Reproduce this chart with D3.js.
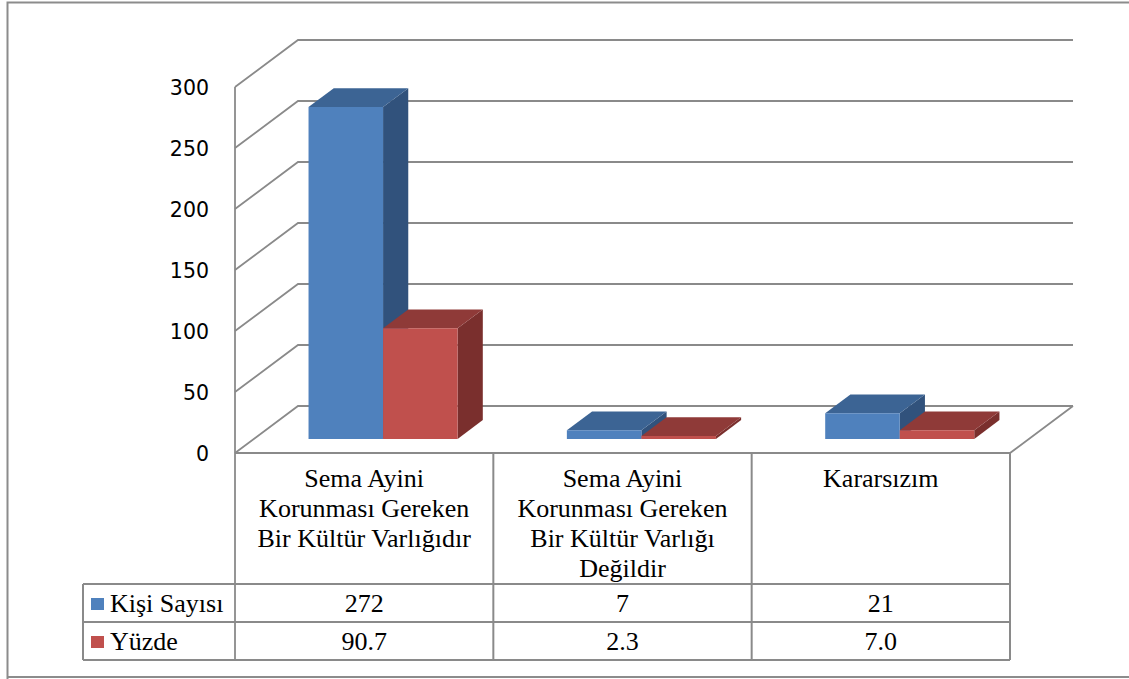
<!DOCTYPE html>
<html lang="tr">
<head>
<meta charset="utf-8">
<title>Sema Ayini</title>
<script src="https://cdn.jsdelivr.net/npm/d3@7/dist/d3.min.js"></script>
<style>
  html, body { margin: 0; padding: 0; background: #ffffff; }
  svg { display: block; }
</style>
</head>
<body>
<div id="chart"></div>
<script>
// Categories (wrapped onto lines as shown under the axis)
const categories = [
  "Sema Ayini|Korunması Gereken|Bir Kültür Varlığıdır",
  "Sema Ayini|Korunması Gereken|Bir Kültür Varlığı|Değildir",
  "Kararsızım"
];
const seriesNames = ["Kişi Sayısı", "Yüzde"];
const kisiSayisi = [272, 7, 21];
const yuzde = [90.7, 2.3, 7.0];
const yTicks = [0, 50, 100, 150, 200, 250, 300];

const W = 1129, H = 679;
const svg = d3.select("#chart").append("svg").attr("width", W).attr("height", H);

const gridColor = "#8a8a8a";
const serif = "'Liberation Serif', 'Times New Roman', serif";
const sans = "'DejaVu Sans', sans-serif";

const colors = [
  { front: "#4f81bd", top: "#3c6494", side: "#31527c" },
  { front: "#c0504d", top: "#8f3a38", side: "#7a2f2d" }
];

// Plot geometry: front plane and depth offset of the 3D box
const x0 = 235, x1 = 1010;
const depthX = 63, depthY = 47;

const x = d3.scaleBand().domain(d3.range(categories.length)).range([x0, x1]);
const y = d3.scaleLinear().domain([0, 300]).range([453, 87]);
const xs = d3.scaleBand().domain(d3.range(seriesNames.length))
  .range([0, x.bandwidth()]).paddingInner(0).paddingOuter(0.733);

// project a point (screen-x at front plane, value, depth 0..1)
const P = (px, v, z) => [px + z * depthX, y(v) - z * depthY];
const line = d3.line();

// outer frame
svg.append("path")
  .attr("d", `M7.5,${H + 2} V2.5 H${W + 2} M7.5,677 H${W + 2}`)
  .attr("fill", "none").attr("stroke", "#8c8c8c").attr("stroke-width", 2);

// walls: gridlines on side wall + back wall
const grid = svg.append("g").attr("fill", "none").attr("stroke", gridColor).attr("stroke-width", 1.8);
yTicks.forEach(v => {
  grid.append("path").attr("d", line([P(x0, v, 0), P(x0, v, 1), P(x1, v, 1)]));
});
// floor front and right edges
grid.append("path").attr("d", line([P(x0, 0, 0), P(x1, 0, 0), P(x1, 0, 1)]));
// side wall front edge continuing into the table
grid.append("path").attr("d", line([P(x0, 300, 0), [x0, 660]]));

// y-axis labels
svg.append("g").selectAll("text").data(yTicks).join("text")
  .attr("x", 209).attr("y", d => y(d) + 1)
  .attr("text-anchor", "end").attr("dominant-baseline", "central")
  .attr("font-family", sans).attr("font-size", 20.5).attr("fill", "#000")
  .text(d => d);

// 3D bars
const zF = 0.3, zB = 0.7;
const seriesData = [kisiSayisi, yuzde];
const bars = svg.append("g");
categories.forEach((c, i) => {
  seriesData.forEach((vals, s) => {
    const v = vals[i];
    const xl = x(i) + xs(s), xr = xl + xs.bandwidth();
    const col = colors[s];
    // right side face
    bars.append("path").attr("fill", col.side)
      .attr("d", line([P(xr, 0, zF), P(xr, 0, zB), P(xr, v, zB), P(xr, v, zF)]) + "Z");
    // top face
    bars.append("path").attr("fill", col.top)
      .attr("d", line([P(xl, v, zF), P(xl, v, zB), P(xr, v, zB), P(xr, v, zF)]) + "Z");
    // front face
    bars.append("path").attr("fill", col.front)
      .attr("d", line([P(xl, 0, zF), P(xr, 0, zF), P(xr, v, zF), P(xl, v, zF)]) + "Z");
  });
});

// data table
const rowTop = 584, rowMid = 622, rowBot = 660, legLeft = 83;
const tbl = svg.append("g").attr("fill", "none").attr("stroke", gridColor).attr("stroke-width", 2);
[rowTop, rowMid, rowBot].forEach(yy => {
  tbl.append("path").attr("d", line([[legLeft, yy], [x1, yy]]));
});
tbl.append("path").attr("d", line([[legLeft, rowTop], [legLeft, rowBot]]));
d3.range(1, categories.length + 1).forEach(i => {
  const xx = i < categories.length ? x(i) : x1;
  tbl.append("path").attr("d", line([[xx, 453], [xx, rowBot]]));
});

// category labels
const catG = svg.append("g").attr("font-family", serif).attr("font-size", 26)
  .attr("text-anchor", "middle").attr("fill", "#000");
categories.forEach((c, i) => {
  c.split("|").forEach((ln, k) => {
    catG.append("text").attr("x", x(i) + x.bandwidth() / 2).attr("y", 487 + k * 30).text(ln);
  });
});

// legend keys and row values
const rowsY = [612, 650];
const fmt = [d => String(d), d => d.toFixed(1)];
seriesNames.forEach((name, s) => {
  svg.append("rect").attr("x", 91).attr("y", rowsY[s] - 14).attr("width", 13).attr("height", 12)
    .attr("fill", colors[s].front);
  svg.append("text").attr("x", 110).attr("y", rowsY[s])
    .attr("font-family", serif).attr("font-size", 26).attr("fill", "#000").text(name);
  seriesData[s].forEach((v, i) => {
    svg.append("text").attr("x", x(i) + x.bandwidth() / 2).attr("y", rowsY[s])
      .attr("text-anchor", "middle").attr("font-family", serif).attr("font-size", 26)
      .attr("fill", "#000").text(fmt[s](v));
  });
});
</script>
</body>
</html>
